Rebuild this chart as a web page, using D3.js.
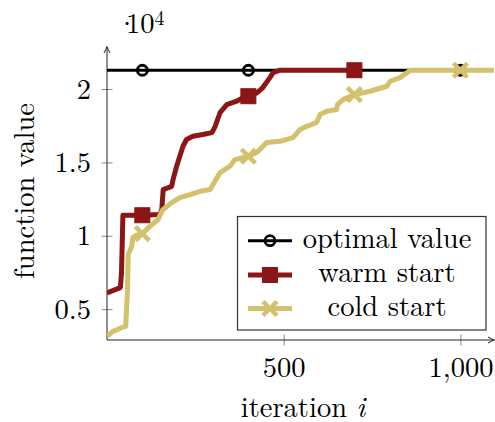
<!DOCTYPE html>
<html>
<head>
<meta charset="utf-8">
<script src="https://cdn.jsdelivr.net/npm/d3@7/dist/d3.min.js"></script>
<style>
  body { margin: 0; background: #fff; }
  svg text { font-family: "Latin Modern Roman", "CMU Serif", "Liberation Serif", "DejaVu Serif", serif; fill: #000; }
</style>
</head>
<body>
<svg id="chart" width="495" height="422"></svg>
<script>
// data
var optimalValue = 21280;
var optimalMarks = [100, 400, 1000];

var warmIter  = [0, 36, 38, 41, 45, 100, 150, 155, 159, 183, 187, 197, 206, 215, 225, 243, 271, 297, 306, 320, 339, 367, 385, 400, 424, 441, 461, 470, 490, 700];
var warmValue = [6100, 6450, 6500, 7500, 11400, 11400, 11450, 11780, 13150, 13370, 13830, 14740, 15420, 16100, 16560, 16780, 16900, 17030, 17460, 18400, 18940, 19170, 19420, 19510, 19740, 20100, 20780, 21120, 21280, 21280];
var warmMarks = [100, 400, 700];

var coldIter  = [0, 17, 41, 53, 58, 60, 70, 73, 84, 100, 122, 144, 158, 183, 206, 235, 263, 292, 300, 320, 348, 362, 400, 424, 452, 490, 526, 546, 565, 593, 603, 622, 650, 652, 668, 700, 744, 792, 801, 829, 848, 858, 1095];
var coldValue = [3150, 3490, 3740, 3830, 6330, 8720, 9280, 9880, 10050, 10150, 10650, 11100, 11780, 12260, 12600, 12810, 13030, 13150, 13490, 14310, 14740, 15190, 15420, 15670, 16350, 16440, 16690, 17240, 17460, 17720, 18260, 18490, 18600, 18940, 19280, 19620, 19850, 20190, 20530, 20780, 21100, 21280, 21280];
var coldMarks = [100, 400, 700, 1000];

var xTicks = [500, 1000];
var yTicks = [5000, 10000, 15000, 20000];
var legendLabels = ["optimal value", "warm start", "cold start"];

var colors = { optimal: "#000000", warm: "#8c1515", cold: "#d4c16b" };

var svg = d3.select('#chart');
var x = d3.scaleLinear().domain([0, 1095]).range([107, 494]);
var y = d3.scaleLinear().domain([2900, 23000]).range([340, 45]);

function valueAt(iters, vals, t) {
  var i = d3.bisectLeft(iters, t);
  if (i <= 0) return vals[0];
  if (i >= iters.length) return vals[vals.length - 1];
  var f = (t - iters[i-1]) / (iters[i] - iters[i-1]);
  return vals[i-1] + f * (vals[i] - vals[i-1]);
}

// ticks
var gx = svg.append("g")
    .attr("transform", "translate(0,334.5)")
    .call(d3.axisBottom(x)
            .tickValues(xTicks)
            .tickSizeInner(11)
            .tickSizeOuter(0)
            .tickFormat(d3.format(",")));
gx.attr("font-family", null).attr("font-size", null);
gx.select(".domain").remove();
gx.selectAll(".tick line").attr("stroke", "#888").attr("stroke-width", 1);
gx.selectAll(".tick text")
    .attr("y", 42.5).attr("dy", 0)
    .style("font-size", "28.5px");

var gy = svg.append("g")
    .attr("transform", "translate(112.5,0)")
    .call(d3.axisLeft(y)
            .tickValues(yTicks)
            .tickSizeInner(11)
            .tickSizeOuter(0)
            .tickFormat(function(d) { return d3.format("")(d / 10000); }));
gy.attr("font-family", null).attr("font-size", null);
gy.select(".domain").remove();
gy.selectAll(".tick line").attr("stroke", "#888").attr("stroke-width", 1);
gy.selectAll(".tick text")
    .attr("x", -21.5).attr("dy", "0.32em")
    .style("font-size", "28.5px");

// axis lines with arrows
svg.append("line").attr("x1", 107).attr("x2", 107).attr("y1", 340).attr("y2", 47)
    .attr("stroke", "#222").attr("stroke-width", 1);
svg.append("line").attr("x1", 107).attr("x2", 493).attr("y1", 340).attr("y2", 340)
    .attr("stroke", "#222").attr("stroke-width", 1);
svg.append("path").attr("d", "M104 53 Q106 49.5 107 46.5 Q108 49.5 110 53")
    .attr("fill", "none").attr("stroke", "#222").attr("stroke-width", 1);
svg.append("path").attr("d", "M488 337 Q491.5 339 494.5 340 Q491.5 341 488 343")
    .attr("fill", "none").attr("stroke", "#222").attr("stroke-width", 1);

// plot area
svg.append("clipPath").attr("id", "clip")
  .append("rect").attr("x", 107).attr("y", 30).attr("width", 388).attr("height", 312);
var plot = svg.append("g").attr("clip-path", "url(#clip)");

var line = d3.line().x(function(d) { return x(d[0]); }).y(function(d) { return y(d[1]); });

function circleMark(g, cx, cy) {
  g.append("circle").attr("cx", cx).attr("cy", cy).attr("r", 5)
      .attr("fill", "none").attr("stroke", colors.optimal).attr("stroke-width", 2.8);
}
function squareMark(g, cx, cy) {
  g.append("rect").attr("x", cx - 7.5).attr("y", cy - 7.5).attr("width", 15).attr("height", 15)
      .attr("fill", colors.warm).attr("stroke", colors.warm).attr("stroke-width", 1);
}
function crossMark(g, cx, cy) {
  g.append("path").attr("d", "M" + (cx-7) + " " + (cy-7) + "L" + (cx+7) + " " + (cy+7) +
                             "M" + (cx-7) + " " + (cy+7) + "L" + (cx+7) + " " + (cy-7))
      .attr("stroke", colors.cold).attr("stroke-width", 4.5).attr("fill", "none");
}

// optimal value
plot.append("path")
    .attr("d", line([[0, optimalValue], [1095, optimalValue]]))
    .attr("fill", "none").attr("stroke", colors.optimal).attr("stroke-width", 3);
optimalMarks.forEach(function(t) { circleMark(plot, x(t), y(optimalValue)); });

// warm start
plot.append("path")
    .attr("d", line(d3.zip(warmIter, warmValue)))
    .attr("fill", "none").attr("stroke", colors.warm).attr("stroke-width", 5)
    .attr("stroke-linejoin", "round");
warmMarks.forEach(function(t) { squareMark(plot, x(t), y(valueAt(warmIter, warmValue, t))); });

// cold start
plot.append("path")
    .attr("d", line(d3.zip(coldIter, coldValue)))
    .attr("fill", "none").attr("stroke", colors.cold).attr("stroke-width", 5)
    .attr("stroke-linejoin", "round");
coldMarks.forEach(function(t) { crossMark(plot, x(t), y(valueAt(coldIter, coldValue, t))); });

// legend
var lg = svg.append("g");
lg.append("rect").attr("x", 237.5).attr("y", 216.5).attr("width", 248.5).attr("height", 113.5)
    .attr("fill", "#fff").attr("stroke", "#333").attr("stroke-width", 1.2);
var rowY = [240.7, 275, 308.5];
var rowColor = [colors.optimal, colors.warm, colors.cold];
var rowWidth = [3, 5, 5];
var markFn = [circleMark, squareMark, crossMark];
legendLabels.forEach(function(label, i) {
  lg.append("line").attr("x1", 248).attr("x2", 292).attr("y1", rowY[i]).attr("y2", rowY[i])
      .attr("stroke", rowColor[i]).attr("stroke-width", rowWidth[i]);
  markFn[i](lg, 270, rowY[i]);
  lg.append("text").attr("x", 387).attr("y", rowY[i] + 7)
      .attr("text-anchor", "middle")
      .style("font-size", "28.5px")
      .text(label);
});

// axis labels
svg.append("text")
    .attr("transform", "translate(34,191) rotate(-90)")
    .attr("text-anchor", "middle")
    .style("font-size", "28.5px")
    .text("function value");

var xl = svg.append("text")
    .attr("x", 303).attr("y", 417)
    .attr("text-anchor", "middle")
    .style("font-size", "28.5px");
xl.append("tspan").text("iteration ");
xl.append("tspan").style("font-style", "italic").text("i");

// scale factor
var sf = svg.append("text").attr("y", 33).style("font-size", "28.5px");
sf.append("tspan").attr("x", 116).text("\u00b7");
sf.append("tspan").attr("x", 126).text("10");
sf.append("tspan").attr("dy", -8).style("font-size", "20px").text("4");
</script>
</body>
</html>
